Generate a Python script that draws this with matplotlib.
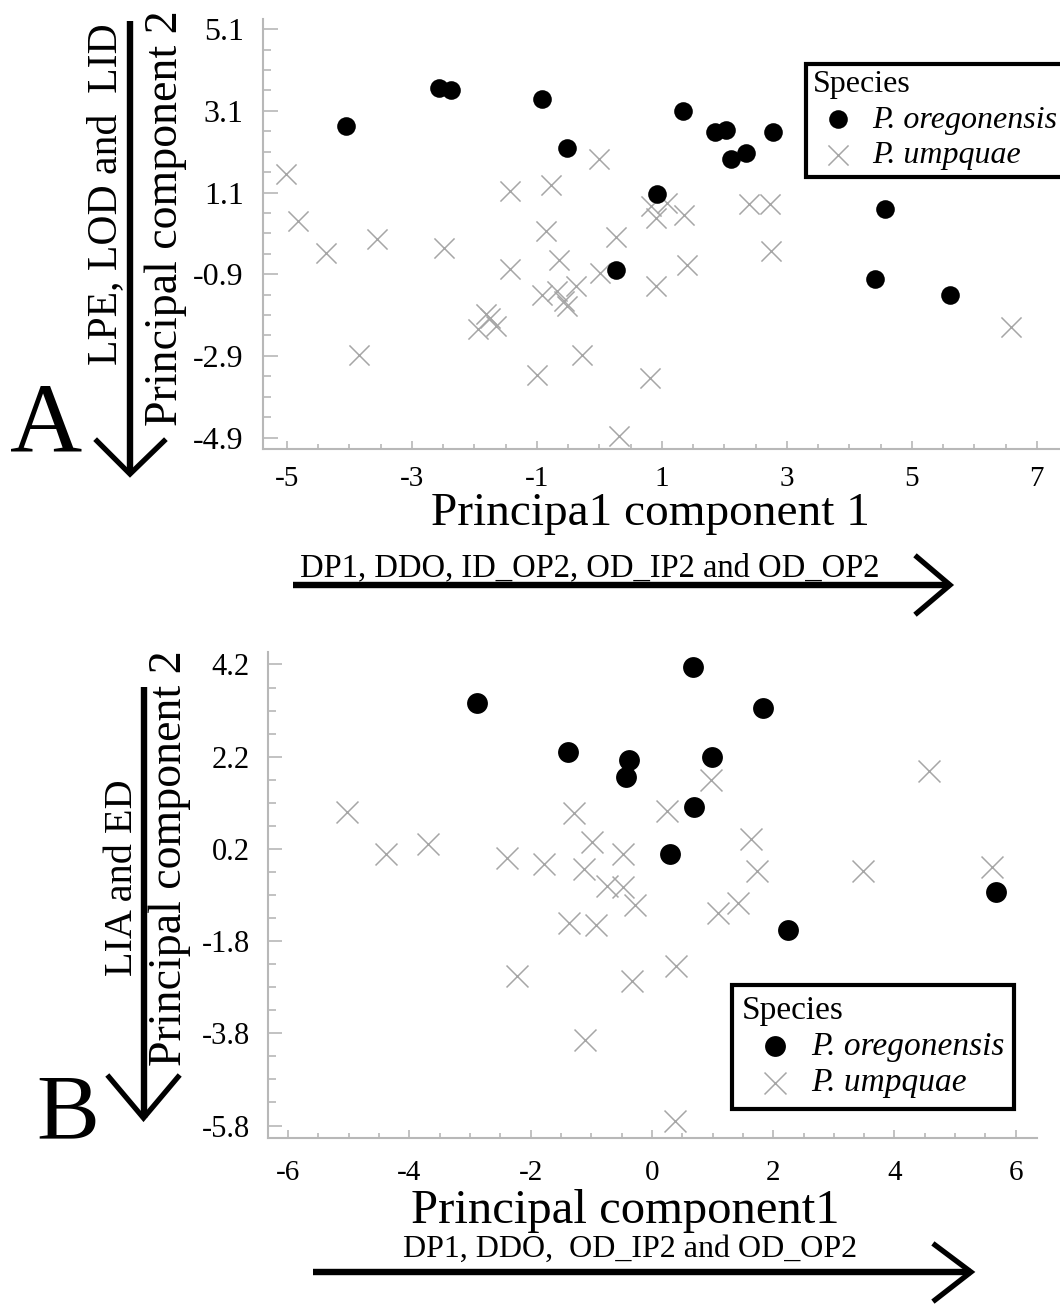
"""Two stacked PCA score plots (A, B): P. oregonensis vs P. umpquae."""

import numpy as np
import matplotlib
matplotlib.use("Agg")
import matplotlib.pyplot as plt
from matplotlib.lines import Line2D

plt.rcParams.update({"font.family": "Liberation Serif",
                     "axes.unicode_minus": False})

# ---- panel A data ----
a_ore_x = [-4.05, -2.56, -2.38, -0.92, -0.52, 1.34, 1.85, 2.02, 2.78, 2.11,
           2.35, 0.93, 4.57, 0.26, 4.41, 5.61]
a_ore_y = [2.72, 3.67, 3.60, 3.39, 2.18, 3.10, 2.58, 2.62, 2.59, 1.93,
           2.07, 1.06, 0.69, -0.79, -1.01, -1.41]
a_ump_x = [-5.01, -4.82, -4.38, -3.55, -2.49, -3.84, -1.43, -1.43, -1.81, -1.75,
           -1.65, -1.94, -1.00, 0.00, -0.78, -0.85, 0.26, 0.83, 1.08, 0.90,
           1.35, 2.39, 2.73, 2.75, 1.40, -0.64, 0.01, 0.90, -0.92, -0.38,
           -0.68, -0.57, -0.52, -0.28, 0.81, 0.32, 6.59]
a_ump_y = [1.56, 0.40, -0.37, -0.03, -0.27, -2.87, 1.14, -0.76, -1.88, -1.96,
           -2.17, -2.25, -3.37, 1.93, 1.29, 0.15, 0.02, 0.77, 0.85, 0.48,
           0.56, 0.81, 0.81, -0.32, -0.68, -0.55, -0.87, -1.18, -1.40, -1.18,
           -1.30, -1.55, -1.67, -2.87, -3.45, -4.86, -2.19]
a_xticks = [-5, -3, -1, 1, 3, 5, 7]
a_yticks = [5.1, 3.1, 1.1, -0.9, -2.9, -4.9]
a_yticklabels = ["5.1", "3.1", "1.1", "-0.9", "-2.9", "-4.9"]

# ---- panel B data ----
b_ore_x = [0.67, 1.83, -1.38, -0.38, -0.42, 0.99, 0.69, 0.30, 2.24, 5.67, -2.88]
b_ore_y = [4.14, 3.26, 2.31, 2.13, 1.76, 2.20, 1.11, 0.10, -1.55, -0.73, 3.37]
b_ump_x = [-5.02, -4.38, -3.70, -2.39, -2.22, 0.97, -1.28, 0.25, -0.99, -0.47,
           -1.78, -1.12, 1.64, 1.74, 3.48, 5.60, 4.57, -0.74, -0.47, -0.28,
           -1.36, -0.92, 1.09, 1.42, 0.39, -0.33, -1.11, 0.38]
b_ump_y = [0.99, 0.08, 0.30, 0.00, -2.56, 1.69, 0.98, 1.03, 0.35, 0.08,
           -0.12, -0.24, 0.41, -0.29, -0.29, -0.20, 1.88, -0.61, -0.62, -1.02,
           -1.41, -1.44, -1.19, -0.97, -2.34, -2.67, -3.95, -5.71]
b_xticks = [-6, -4, -2, 0, 2, 4, 6]
b_yticks = [4.2, 2.2, 0.2, -1.8, -3.8, -5.8]
b_yticklabels = ["4.2", "2.2", "0.2", "-1.8", "-3.8", "-5.8"]

SPECIES = ["P. oregonensis", "P. umpquae"]
GREY = "#a6a6a6"
SPINE = "#b8b8b8"

W, H = 1060, 1304
fig = plt.figure(figsize=(W / 100, H / 100), dpi=100)


def fx(px):
    return px / W


def fy(py):
    return 1 - py / H


def panel(box, xlim, ylim, xticks, yticks, yticklabels, xfs, xpad, yfs, ypad, ytl):
    l, t, r, b = box
    ax = fig.add_axes([fx(l), fy(b), (r - l) / W, (b - t) / H])
    ax.set_xlim(*xlim)
    ax.set_ylim(*ylim)
    for s in ("top", "right"):
        ax.spines[s].set_visible(False)
    for s in ("left", "bottom"):
        ax.spines[s].set_color(SPINE)
        ax.spines[s].set_linewidth(1.5)
    ax.set_xticks(xticks)
    ax.set_xticklabels([str(v) for v in xticks])
    ax.set_xticks(np.arange(xticks[0], xticks[-1] + 0.01, 0.5), minor=True)
    ax.set_yticks(yticks)
    ax.set_yticklabels(yticklabels)
    ax.set_yticks(np.arange(yticks[-1], yticks[0] + 0.01, 0.5), minor=True)
    ax.tick_params(axis="x", which="major", direction="in", length=6, width=1.2,
                   color=SPINE, labelsize=xfs, pad=xpad)
    ax.tick_params(axis="x", which="minor", direction="in", length=3.5, width=1.2,
                   color=SPINE)
    ax.tick_params(axis="y", which="major", direction="in", length=ytl, width=1.2,
                   color=SPINE, labelsize=yfs, pad=ypad)
    ax.tick_params(axis="y", which="minor", direction="in", length=ytl * 0.55,
                   width=1.2, color=SPINE)
    return ax


def arrow(tail, tip, w1, w2, lw=4.6):
    fig.add_artist(Line2D([fx(tail[0]), fx(tip[0])], [fy(tail[1]), fy(tip[1])],
                          color="black", lw=lw, solid_capstyle="butt"))
    fig.add_artist(Line2D([fx(w1[0]), fx(tip[0]), fx(w2[0])],
                          [fy(w1[1]), fy(tip[1]), fy(w2[1])],
                          color="black", lw=3.8, solid_joinstyle="miter"))


# ---------- panel A ----------
axA = panel((263, 19, 1060, 449), (-5.38, 7.37), (-5.18, 5.35),
            a_xticks, a_yticks, a_yticklabels, 21, 12.5, 23, 14, 11)
axA.scatter(a_ore_x, a_ore_y, s=180, c="black", marker="o", lw=0,
            label=SPECIES[0], zorder=3)
axA.scatter(a_ump_x, a_ump_y, s=210, c=GREY, marker="x", linewidths=1.1,
            label=SPECIES[1], zorder=2)

# ---------- panel B ----------
axB = panel((268, 652, 1037, 1138), (-6.33, 6.35), (-6.07, 4.47),
            b_xticks, b_yticks, b_yticklabels, 21, 16, 22, 13, 10)
axB.scatter(b_ore_x, b_ore_y, s=225, c="black", marker="o", lw=0,
            label=SPECIES[0], zorder=3)
axB.scatter(b_ump_x, b_ump_y, s=250, c=GREY, marker="x", linewidths=1.1,
            label=SPECIES[1], zorder=2)

legend_specs = [
    (axA, (806, 63.5), 23, 0.2, 1.63, 0.23, 0.2),
    (axB, (732, 985), 24, 0.3, 2.0, 0.07, 0.18),
]
for ax, (lx, ly), fs, bpad, hlen, hpad, lsp in legend_specs:
    leg = ax.legend(loc="upper left", bbox_to_anchor=(fx(lx), fy(ly)),
                    bbox_transform=fig.transFigure, title="Species",
                    alignment="left", prop={"style": "italic", "size": fs},
                    title_fontsize=fs, fancybox=False, framealpha=1,
                    edgecolor="black", borderaxespad=0, borderpad=bpad,
                    labelspacing=lsp, handletextpad=hpad, handlelength=hlen)
    leg.get_frame().set_linewidth(3)

# ---------- labels ----------
fig.text(fx(650), fy(525), "Principa1 component 1", fontsize=34,
         ha="center", va="baseline")
fig.text(fx(590), fy(576), "DP1, DDO, ID_OP2, OD_IP2 and OD_OP2", fontsize=23.5,
         ha="center", va="baseline")
fig.text(fx(166), fy(218), "Principal component 2", fontsize=33, rotation=90,
         ha="center", va="center")
fig.text(fx(106), fy(194), "LPE, LOD and  LID", fontsize=30, rotation=90,
         ha="center", va="center")
fig.text(fx(46), fy(451), "A", fontsize=72, ha="center", va="baseline")

fig.text(fx(625), fy(1223), "Principal component1", fontsize=35,
         ha="center", va="baseline")
fig.text(fx(630), fy(1257), "DP1, DDO,  OD_IP2 and OD_OP2", fontsize=23,
         ha="center", va="baseline")
fig.text(fx(170), fy(858), "Principal component 2", fontsize=33, rotation=90,
         ha="center", va="center")
fig.text(fx(122), fy(878), "LIA and ED", fontsize=29, rotation=90,
         ha="center", va="center")
fig.text(fx(68), fy(1138), "B", fontsize=68, ha="center", va="baseline")

# ---------- arrows ----------
arrow((130, 21), (130, 474), (97, 441), (164, 441))
arrow((293, 585), (950, 585), (917, 557), (917, 613))
arrow((143.5, 687), (143.5, 1118), (109, 1077), (178, 1077))
arrow((313, 1272), (971, 1272), (935, 1245), (935, 1300))

fig.savefig("out.png", dpi=100)
